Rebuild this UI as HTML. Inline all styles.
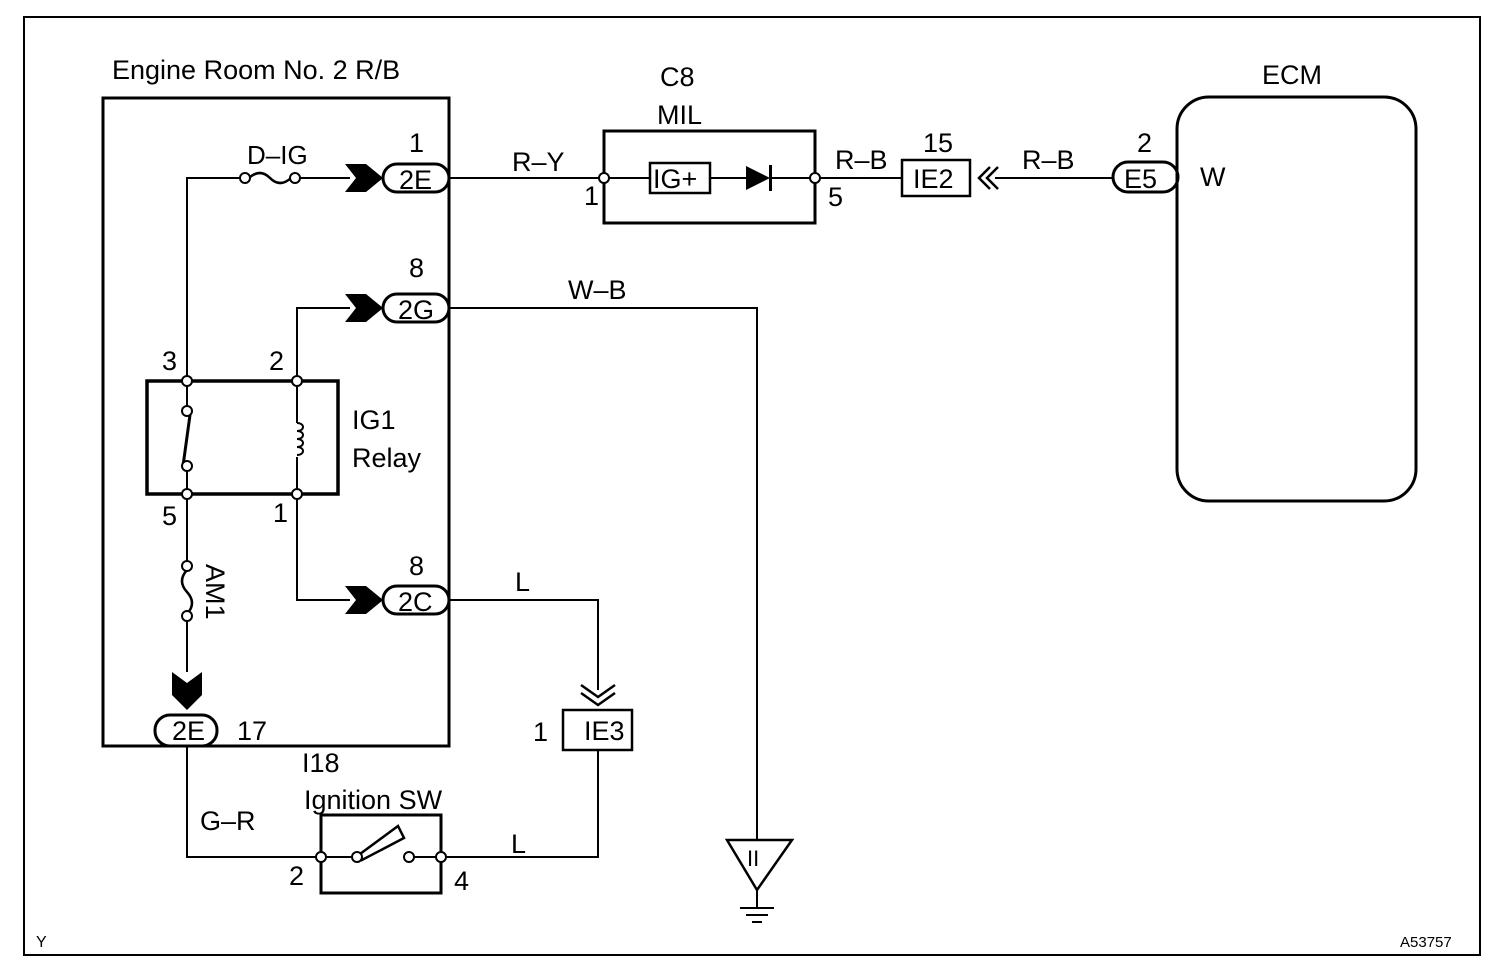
<!DOCTYPE html>
<html><head><style>body{margin:0;background:#fff}svg{display:block}text{font-family:"Liberation Sans",sans-serif;fill:#000}</style></head><body>
<svg width="1504" height="972" viewBox="0 0 1504 972" xmlns="http://www.w3.org/2000/svg">
<rect x="24" y="17" width="1456" height="938" fill="none" stroke="#000" stroke-width="2"/>
<g fill="none" stroke="#000" stroke-width="2">
<rect x="103" y="98" width="346" height="648" stroke-width="3"/>
<path d="M187 381V178H241M299 178H350"/>
<path d="M249 178q11 -10 21 0t21 0" stroke-width="2.5"/>
<path d="M449 178H600M819 178H902M995 178H1113"/>
<rect x="604" y="131" width="211" height="92" stroke-width="3"/>
<path d="M608 178H650M710 178H746M770 178H811"/>
<rect x="650" y="163" width="60" height="30" stroke-width="2.5"/>
<rect x="902" y="160" width="68" height="36" stroke-width="2.5"/>
<rect x="1177" y="97" width="239" height="404" rx="32" stroke-width="3"/>
<path d="M297 377V308H350M449 308H757V840"/>
<rect x="147" y="381" width="191" height="113" stroke-width="3.5"/>
<path d="M187 385V407M187 470V490M297 385V423M297 457V490" />
<path d="M183 466L190 415" stroke-width="3"/>
<path d="M297 423c8 0 8 8 0 8c8 0 8 8 0 8c8 0 8 8 0 8c8 0 8 8 0 8" stroke-width="2"/>
<path d="M187 498V562M187 620V672M297 498V600H350M449 600H598V690"/>
<path d="M187 570q-10 11 0 22t0 22" stroke-width="2.5"/>
<path d="M187 746V857H317M445 857H598V750"/>
<rect x="321" y="815" width="120" height="78" stroke-width="3"/>
<path d="M325 857H353M413 857H437"/>
<path d="M360 854L398 826L404 838L362 860Z" stroke-width="2.5"/>
<rect x="563" y="710" width="69" height="40" stroke-width="2.5"/>
<rect x="383" y="164" width="66" height="28" rx="14" stroke-width="3"/>
<rect x="383" y="294" width="66" height="28" rx="14" stroke-width="3"/>
<rect x="383" y="586" width="66" height="28" rx="14" stroke-width="3"/>
<rect x="155" y="715" width="62" height="31" rx="15" stroke-width="3"/>
<rect x="1113" y="162" width="65" height="30" rx="15" stroke-width="3"/>
<path d="M990 167L979 178L990 189M998 167L987 178L998 189" stroke-width="2.5"/>
<path d="M581 685L598 697L615 685M581 693L598 705L615 693" stroke-width="2.5"/>
<path d="M727 840H792L757 890Z" stroke-width="2.5"/>
<path d="M757 890V908M740 908H774M746 915H768M752 922H762"/>
</g>
<g fill="#000">
<path d="M345 164H366L383 178L366 192H345L356 178Z"/>
<path d="M345 294H366L383 308L366 322H345L356 308Z"/>
<path d="M345 586H366L383 600L366 614H345L356 600Z"/>
<path d="M172 672L187 683L202 672V695L187 710L172 695Z"/>
<path d="M746 166L770 178L746 190Z"/>
<rect x="769" y="165" width="3" height="26"/>
</g>
<g fill="#fff" stroke="#000" stroke-width="2">
<circle cx="245" cy="178" r="5"/><circle cx="295" cy="178" r="5"/>
<circle cx="604" cy="178" r="5"/><circle cx="815" cy="178" r="5"/>
<circle cx="187" cy="381" r="5"/><circle cx="297" cy="381" r="5"/>
<circle cx="187" cy="494" r="5"/><circle cx="297" cy="494" r="5"/>
<circle cx="187" cy="411" r="5"/><circle cx="187" cy="466" r="5"/>
<circle cx="187" cy="566" r="5"/><circle cx="187" cy="616" r="5"/>
<circle cx="321" cy="857" r="5"/><circle cx="357" cy="857" r="5"/>
<circle cx="409" cy="857" r="5"/><circle cx="441" cy="857" r="5"/>
</g>
<g font-size="27">
<text x="112" y="79">Engine Room No. 2 R/B</text>
<text x="247" y="164" font-size="26">D–IG</text>
<text x="409" y="152">1</text>
<text x="399" y="189">2E</text>
<text x="409" y="277">8</text>
<text x="398" y="319">2G</text>
<text x="409" y="575">8</text>
<text x="398" y="611">2C</text>
<text x="172" y="740">2E</text>
<text x="237" y="740">17</text>
<text x="512" y="171">R–Y</text>
<text x="660" y="86">C8</text>
<text x="657" y="124">MIL</text>
<text x="653" y="188">IG+</text>
<text x="584" y="205">1</text>
<text x="828" y="206">5</text>
<text x="835" y="169">R–B</text>
<text x="923" y="152">15</text>
<text x="913" y="188">IE2</text>
<text x="1022" y="169">R–B</text>
<text x="1137" y="152">2</text>
<text x="1124" y="188">E5</text>
<text x="1200" y="186">W</text>
<text x="1262" y="84">ECM</text>
<text x="568" y="299">W–B</text>
<text x="162" y="370">3</text>
<text x="269" y="370">2</text>
<text x="162" y="525">5</text>
<text x="273" y="522">1</text>
<text x="352" y="429">IG1</text>
<text x="352" y="467">Relay</text>
<text x="0" y="0" transform="translate(206,564) rotate(90)">AM1</text>
<text x="515" y="591">L</text>
<text x="533" y="741">1</text>
<text x="584" y="740">IE3</text>
<text x="302" y="772">I18</text>
<text x="304" y="809">Ignition SW</text>
<text x="200" y="830">G–R</text>
<text x="511" y="853">L</text>
<text x="289" y="885">2</text>
<text x="454" y="890">4</text>
<text x="747" y="866" font-size="22">II</text>
</g>
<text x="36" y="947" font-size="16">Y</text>
<text x="1400" y="947" font-size="15">A53757</text>
</svg>
</body></html>
